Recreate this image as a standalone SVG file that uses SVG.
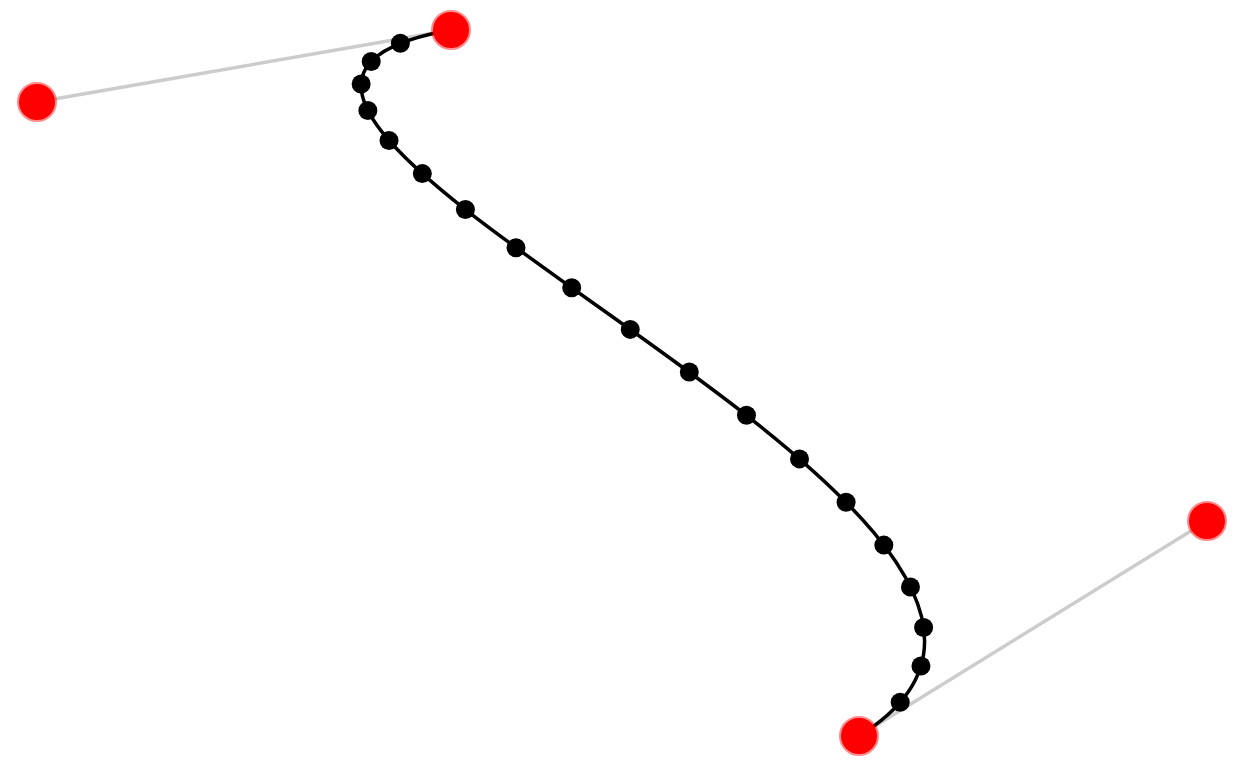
<svg xmlns="http://www.w3.org/2000/svg" width="1235" height="773" viewBox="0 0 1235 773">
<style>
.handle{stroke:#ccc;stroke-width:3.5;fill:none}
.curve{stroke:#000;stroke-width:3.5;fill:none}
.ctrl{fill:#f00;stroke:#f00;stroke-opacity:0.45;stroke-width:4}
.pt{fill:#000}
</style>
<rect width="1235" height="773" fill="#fff"/>
<g id="connectors">
<line class="handle" x1="451" y1="30" x2="37" y2="102"/>
<line class="handle" x1="859" y1="736" x2="1207" y2="521"/>
<path class="curve" d="M451,30 C37,102 1207,521 859,736"/>
</g>
<g id="samples">
<circle class="pt" cx="400.39" cy="43.33" r="9.5"/>
<circle class="pt" cx="371.22" cy="61.46" r="9.5"/>
<circle class="pt" cx="361.15" cy="83.96" r="9.5"/>
<circle class="pt" cx="367.86" cy="110.43" r="9.5"/>
<circle class="pt" cx="389.03" cy="140.45" r="9.5"/>
<circle class="pt" cx="422.33" cy="173.61" r="9.5"/>
<circle class="pt" cx="465.42" cy="209.50" r="9.5"/>
<circle class="pt" cx="515.99" cy="247.70" r="9.5"/>
<circle class="pt" cx="571.71" cy="287.79" r="9.5"/>
<circle class="pt" cx="630.25" cy="329.38" r="9.5"/>
<circle class="pt" cx="689.29" cy="372.03" r="9.5"/>
<circle class="pt" cx="746.49" cy="415.34" r="9.5"/>
<circle class="pt" cx="799.53" cy="458.90" r="9.5"/>
<circle class="pt" cx="846.09" cy="502.30" r="9.5"/>
<circle class="pt" cx="883.84" cy="545.11" r="9.5"/>
<circle class="pt" cx="910.46" cy="586.93" r="9.5"/>
<circle class="pt" cx="923.60" cy="627.54" r="9.5"/>
<circle class="pt" cx="920.96" cy="665.93" r="9.5"/>
<circle class="pt" cx="900.20" cy="702.29" r="9.5"/>
</g>
<g id="p0"><circle class="ctrl" cx="451" cy="30" r="18"/></g>
<g id="p1"><circle class="ctrl" cx="37" cy="102" r="18"/></g>
<g id="p2"><circle class="ctrl" cx="1207" cy="521" r="18"/></g>
<g id="p3"><circle class="ctrl" cx="859" cy="736" r="18"/></g>
</svg>
